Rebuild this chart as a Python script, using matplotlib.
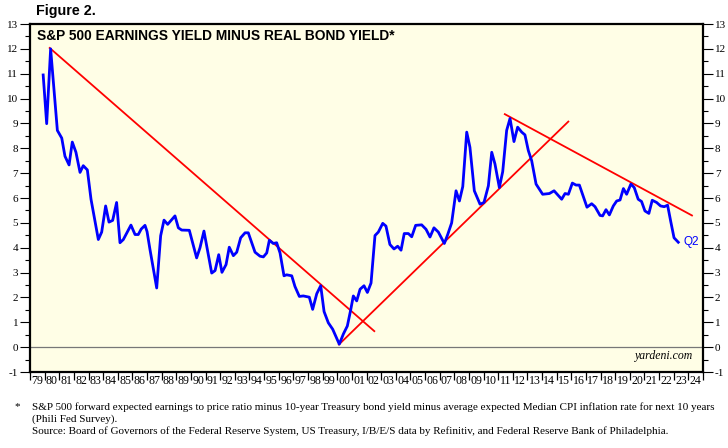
import matplotlib
matplotlib.use("Agg")
import matplotlib.pyplot as plt
from matplotlib.ticker import MultipleLocator, FixedLocator, NullFormatter

# ---------------- data ----------------
years = [
    1979.90, 1980.14, 1980.41, 1980.87, 1981.17, 1981.39, 1981.67, 1981.89, 1982.14, 1982.42,
    1982.64, 1982.92, 1983.17, 1983.44, 1983.67, 1983.90, 1984.17, 1984.40, 1984.65, 1984.92,
    1985.15, 1985.38, 1985.90, 1986.18, 1986.40, 1986.60, 1986.86, 1987.00, 1987.20, 1987.66,
    1987.93, 1988.16, 1988.41, 1988.91, 1989.14, 1989.37, 1989.89, 1990.39, 1990.62, 1990.89,
    1991.42, 1991.65, 1991.90, 1992.12, 1992.40, 1992.62, 1992.90, 1993.13, 1993.40, 1993.70,
    1993.92, 1994.38, 1994.72, 1994.95, 1995.18, 1995.36, 1995.63, 1995.86, 1996.09, 1996.36,
    1996.54, 1996.89, 1997.11, 1997.41, 1997.68, 1998.09, 1998.32, 1998.60, 1998.87, 1999.10,
    1999.39, 1999.69, 2000.14, 2000.42, 2000.69, 2000.92, 2001.10, 2001.33, 2001.56, 2001.83,
    2002.06, 2002.31, 2002.58, 2002.81, 2003.11, 2003.33, 2003.60, 2003.88, 2004.13, 2004.36,
    2004.58, 2004.86, 2005.09, 2005.36, 2005.77, 2006.07, 2006.34, 2006.61, 2006.91, 2007.32,
    2007.55, 2007.82, 2008.12, 2008.35, 2008.58, 2008.85, 2009.07, 2009.37, 2009.76, 2010.03,
    2010.33, 2010.56, 2010.78, 2011.08, 2011.31, 2011.58, 2011.81, 2012.08, 2012.33, 2012.61,
    2012.83, 2013.06, 2013.29, 2013.59, 2014.04, 2014.50, 2014.82, 2015.34, 2015.57, 2015.80,
    2016.07, 2016.32, 2016.55, 2017.07, 2017.39, 2017.62, 2017.96, 2018.14, 2018.37, 2018.60,
    2018.87, 2019.10, 2019.33, 2019.56, 2019.78, 2020.07, 2020.30, 2020.57, 2020.80, 2021.03,
    2021.30, 2021.53, 2021.83, 2022.10, 2022.35, 2022.58, 2022.79, 2023.02, 2023.31,
]
values = [
    10.95, 8.99, 12.00, 8.72, 8.41, 7.68, 7.33, 8.25, 7.84, 7.03,
    7.30, 7.13, 5.95, 5.07, 4.33, 4.63, 5.68, 5.03, 5.10, 5.82,
    4.20, 4.33, 4.91, 4.53, 4.53, 4.75, 4.90, 4.65, 3.93, 2.38,
    4.48, 5.11, 4.94, 5.28, 4.80, 4.71, 4.70, 3.59, 4.00, 4.67,
    2.98, 3.08, 3.72, 3.01, 3.32, 4.02, 3.68, 3.82, 4.40, 4.60,
    4.60, 3.82, 3.66, 3.63, 3.79, 4.30, 4.17, 4.20, 3.79, 2.87,
    2.91, 2.87, 2.44, 2.04, 2.06, 2.01, 1.52, 2.15, 2.47, 1.43,
    0.98, 0.72, 0.12, 0.53, 0.85, 1.50, 2.06, 1.86, 2.33, 2.47,
    2.20, 2.58, 4.49, 4.63, 4.98, 4.87, 4.13, 3.95, 4.06, 3.90,
    4.57, 4.57, 4.44, 4.90, 4.92, 4.74, 4.43, 4.80, 4.63, 4.17,
    4.53, 5.00, 6.29, 5.88, 6.46, 8.65, 8.04, 6.29, 5.75, 5.82,
    6.49, 7.84, 7.37, 6.42, 7.06, 8.72, 9.20, 8.27, 8.85, 8.65,
    8.54, 7.91, 7.50, 6.56, 6.15, 6.18, 6.29, 5.95, 6.18, 6.15,
    6.60, 6.52, 6.52, 5.63, 5.77, 5.65, 5.30, 5.28, 5.53, 5.32,
    5.68, 5.88, 5.92, 6.38, 6.15, 6.56, 6.42, 5.95, 5.86, 5.48,
    5.38, 5.91, 5.82, 5.68, 5.65, 5.71, 5.07, 4.40, 4.22,
]

# trend lines (start year, start value, end year, end value)
trend_years = [[1980.30, 2002.58], [2000.07, 2015.84], [2011.40, 2024.30]]
trend_values = [[12.06, 0.62], [0.08, 9.10], [9.39, 5.28]]

year_labels = ["%02d" % (y % 100) for y in range(1979, 2025)]
y_ticks = list(range(-1, 14))

title = "S&P 500 EARNINGS YIELD MINUS REAL BOND YIELD*"
last_label = "Q2"

# ---------------- figure ----------------
fig = plt.figure(figsize=(7.28, 4.48), dpi=100)
ax = fig.add_axes([30 / 728, 1 - 372 / 448, 673 / 728, 348 / 448])
ax.set_facecolor("#fffee6")

serif = "Liberation Serif"
sans = "Liberation Sans"

ax.axhline(0, color="#777777", lw=0.9, zorder=1)

for ty, tv in zip(trend_years, trend_values):
    ax.plot(ty, tv, color="#ff0000", lw=1.3, zorder=2, solid_capstyle="butt")

ax.plot(years, values, color="#0000ff", lw=2.0, zorder=3, solid_joinstyle="round")
ax.text(years[-1] + 0.35, values[-1], last_label, color="#0000ff", fontsize=8.5,
        family=sans, va="center", ha="left")

ax.set_xlim(1979, 2025)
ax.set_ylim(-1, 13)

# x ticks at year boundaries, labels centered between
ax.xaxis.set_major_locator(FixedLocator(list(range(1979, 2026))))
ax.xaxis.set_major_formatter(NullFormatter())
ax.xaxis.set_minor_locator(FixedLocator([y + 0.5 for y in range(1979, 2025)]))
ax.set_xticklabels(year_labels, minor=True, family=serif)
ax.tick_params(axis="x", which="major", direction="out", length=6, width=0.9, color="black")
ax.tick_params(axis="x", which="minor", length=0, pad=2, labelsize=8.6)

# y ticks both sides
ax.yaxis.set_major_locator(FixedLocator(y_ticks))
ax.yaxis.set_minor_locator(MultipleLocator(0.5))
ax.tick_params(axis="y", which="major", direction="out", length=7, width=0.8,
               left=True, right=True, labelleft=True, labelright=True, labelsize=8.0, pad=1.5)
ax.tick_params(axis="y", which="minor", direction="out", length=3.5, width=0.8,
               left=True, right=True)
ax.set_yticks(y_ticks)
ax.set_yticklabels([str(t) for t in y_ticks], family=serif)

for s in ax.spines.values():
    s.set_linewidth(1.6)
    s.set_color("black")

ax.text(0.011, 0.985, title, transform=ax.transAxes, fontsize=9.9, fontweight="bold",
        family=sans, va="top", ha="left")
ax.text(0.986, 0.03, "yardeni.com", transform=ax.transAxes, fontsize=8.5, style="italic",
        family=serif, va="bottom", ha="right")

fig.text(36 / 728, 1 - 11 / 448, "Figure 2.", fontsize=10.3, fontweight="bold",
         family=sans, va="center", ha="left")

fs = 8.0
fig.text(14 / 728, 1 - 407 / 448, "*", fontsize=fs, family=serif, va="center", ha="left")
fig.text(32 / 728, 1 - 407 / 448,
         "S&P 500 forward expected earnings to price ratio minus 10-year Treasury bond yield minus average expected Median CPI inflation rate for next 10 years",
         fontsize=fs, family=serif, va="center", ha="left")
fig.text(32 / 728, 1 - 419 / 448, "(Phili Fed Survey).", fontsize=fs, family=serif,
         va="center", ha="left")
fig.text(32 / 728, 1 - 431 / 448,
         "Source: Board of Governors of the Federal Reserve System, US Treasury, I/B/E/S data by Refinitiv, and Federal Reserve Bank of Philadelphia.",
         fontsize=fs, family=serif, va="center", ha="left")

fig.savefig("out.png", dpi=100, facecolor="white")
